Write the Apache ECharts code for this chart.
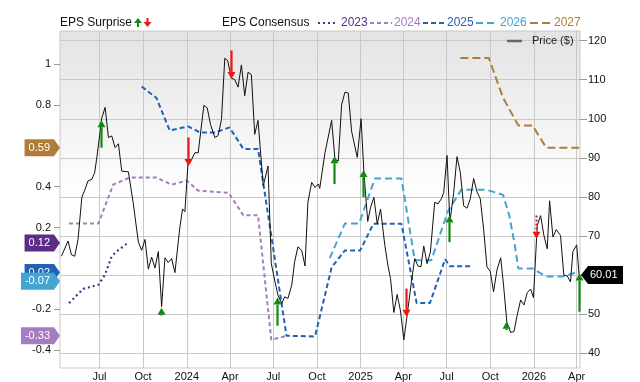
<!DOCTYPE html>
<html>
<head>
<meta charset="utf-8">
<script src="https://cdn.jsdelivr.net/npm/echarts@6/dist/echarts.min.js"></script>
<style>
html,body{margin:0;padding:0;background:#fff;}
#chart{width:640px;height:382px;}
</style>
</head>
<body>
<div id="chart"></div>
<script>
// ---------- DATA ----------
var priceDates = ['2023-04-12','2023-04-26','2023-05-03','2023-05-10','2023-05-17','2023-05-25','2023-06-01','2023-06-07','2023-06-15','2023-06-21','2023-06-26','2023-07-06','2023-07-13','2023-07-20','2023-07-27','2023-08-03','2023-08-10','2023-08-17','2023-08-31','2023-09-10','2023-09-21','2023-09-28','2023-10-05','2023-10-12','2023-10-19','2023-10-26','2023-11-02','2023-11-09','2023-11-16','2023-11-23','2023-11-30','2023-12-07','2023-12-17','2023-12-23','2023-12-28','2024-01-04','2024-01-07','2024-01-18','2024-01-25','2024-02-06','2024-02-13','2024-02-20','2024-02-29','2024-03-07','2024-03-14','2024-03-21','2024-03-27','2024-04-04','2024-04-11','2024-04-18','2024-04-25','2024-05-02','2024-05-09','2024-05-16','2024-05-23','2024-05-30','2024-06-10','2024-06-20','2024-06-27','2024-07-04','2024-07-11','2024-07-19','2024-07-25','2024-08-01','2024-08-09','2024-08-15','2024-08-22','2024-08-30','2024-09-06','2024-09-12','2024-09-20','2024-09-27','2024-10-04','2024-10-07','2024-10-18','2024-11-01','2024-11-08','2024-11-15','2024-11-22','2024-11-29','2024-12-06','2024-12-13','2024-12-25','2025-01-02','2025-01-08','2025-01-16','2025-01-22','2025-01-29','2025-02-05','2025-02-12','2025-02-21','2025-02-28','2025-03-05','2025-03-12','2025-03-19','2025-03-26','2025-04-02','2025-04-09','2025-04-18','2025-04-25','2025-05-02','2025-05-08','2025-05-14','2025-05-21','2025-05-28','2025-06-06','2025-06-13','2025-06-20','2025-06-25','2025-07-02','2025-07-08','2025-07-16','2025-07-23','2025-07-30','2025-08-06','2025-08-13','2025-08-20','2025-08-27','2025-09-03','2025-09-10','2025-09-17','2025-09-24','2025-10-01','2025-10-08','2025-10-15','2025-10-23','2025-10-29','2025-11-05','2025-11-13','2025-11-20','2025-11-26','2025-12-04','2025-12-11','2025-12-18','2025-12-25','2025-12-31','2026-01-08','2026-01-15','2026-01-22','2026-01-29','2026-02-03','2026-02-10','2026-02-17','2026-02-26','2026-03-05','2026-03-12','2026-03-19','2026-03-24','2026-04-01','2026-04-06'];
var priceValues = [64.8,68.7,65.2,64.8,69.1,79.9,82.0,84.1,84.5,86.2,90.4,100.2,102.9,95.2,95.6,92.6,93.6,86.6,86.4,78.6,68.4,66.3,69.1,61.5,64.6,61.8,66.0,51.9,64.4,63.2,64.2,60.6,71.8,76.9,76.2,89.5,88.6,91.3,91.3,103.4,102.8,98.5,95.2,95.7,99.8,115.5,114.9,110.4,110.0,108.1,113.8,105.9,111.9,111.3,96.0,99.6,82.8,87.9,62.9,58.7,54.8,52.7,54.4,54.0,57.4,63.3,67.2,66.3,62.3,78.6,83.7,82.4,83.3,82.2,91.3,99.6,89.6,89.2,103.6,106.8,106.6,96.8,90.1,100.0,86.2,73.7,77.3,79.9,73.1,76.9,67.6,62.1,59.1,50.4,55.0,50.8,43.4,49.7,58.2,64.2,62.3,62.1,67.4,62.9,65.9,78.6,78.2,79.5,81.1,90.6,73.5,81.1,90.3,86.2,77.7,77.1,79.5,84.7,81.3,79.5,71.8,62.1,60.9,55.7,61.2,64.4,57.4,47.9,45.3,45.5,49.3,53.6,52.3,55.5,56.4,54.2,72.7,75.2,70.1,66.7,79.0,69.7,71.6,70.1,59.9,59.8,58.2,66.0,67.7,60.01];

var eps2023Dates = ['2023-04-28','2023-05-28','2023-06-29','2023-07-13','2023-07-27','2023-08-10','2023-08-27'];
var eps2023Values = [-0.17,-0.10,-0.08,-0.03,0.06,0.09,0.12];

var eps2024Dates = ['2023-04-28','2023-06-29','2023-07-30','2023-09-03','2023-10-29','2023-11-30','2024-01-01','2024-01-25','2024-03-29','2024-04-29','2024-05-30','2024-06-27','2024-07-29'];
var eps2024Values = [0.22,0.22,0.41,0.445,0.445,0.41,0.43,0.38,0.37,0.26,0.26,-0.35,-0.33];

var eps2025Dates = ['2023-09-28','2023-10-29','2023-11-26','2024-01-04','2024-01-29','2024-02-29','2024-03-31','2024-04-29','2024-05-30','2024-07-29','2024-09-27','2024-11-01','2024-11-29','2024-12-31','2025-01-28','2025-03-28','2025-04-29','2025-05-27','2025-06-28','2025-07-08','2025-08-26'];
var eps2025Values = [0.89,0.835,0.675,0.695,0.665,0.665,0.69,0.585,0.585,-0.33,-0.333,0.005,0.088,0.088,0.218,0.218,-0.17,-0.17,0.045,0.01,0.01];

var eps2026Dates = ['2024-10-28','2024-11-29','2024-12-29','2025-01-31','2025-03-28','2025-04-25','2025-05-30','2025-07-04','2025-08-01','2025-09-23','2025-10-28','2025-11-10','2025-11-22','2025-11-29','2025-12-29','2026-01-27','2026-03-03','2026-04-06'];
var eps2026Values = [0.05,0.22,0.22,0.44,0.44,0.04,0.04,0.28,0.385,0.385,0.36,0.26,0.11,0.0,0.0,-0.04,-0.04,-0.015];

var eps2027Dates = ['2025-07-30','2025-09-28','2025-10-28','2025-11-29','2025-12-29','2026-01-27','2026-04-06'];
var eps2027Values = [1.03,1.03,0.835,0.70,0.70,0.59,0.59];

var surpriseDates = ['2023-07-04','2023-11-07','2024-01-03','2024-04-03','2024-07-08','2024-11-05','2025-01-05','2025-04-06','2025-07-06','2025-11-04','2026-01-05','2026-04-05'];
var surpriseFrom = [92.6,49.6,95.2,117.5,47.0,83.3,79.9,56.5,68.4,45.9,75.2,50.6];
var surpriseTo   = [99.6,51.6,87.9,110.2,54.2,90.4,86.9,49.3,75.2,48.0,69.3,60.4];
var surpriseDotted = [0,0,0,0,0,0,0,0,0,0,1,0];

var xTickDates = ['2023-07-01','2023-10-01','2024-01-01','2024-04-01','2024-07-01','2024-10-01','2025-01-01','2025-04-01','2025-07-01','2025-10-01','2026-01-01','2026-04-01'];
var xTickLabels = ['Jul','Oct','2024','Apr','Jul','Oct','2025','Apr','Jul','Oct','2026','Apr'];
var xMinDate = '2023-04-09', xMaxDate = '2026-04-08';
var priceTicks = [40,50,60,70,80,90,100,110,120];
var epsTicks = [-0.4,-0.2,0.2,0.4,0.8,1];
var epsTickLabels = ['-0.4','-0.2','0.2','0.4','0.8','1'];

// badge labels and the axis value each badge sits at (stacked badges are nudged apart)
var badgeLabels = ['0.59','0.12','0.02','-0.07','-0.33'];
var badgeAt = [0.59,0.124,-0.02,-0.063,-0.33];
var lastPrice = 60.01;
var lastPriceLabel = '60.01';

// ---------- STYLE ----------
var FONT = '"Liberation Sans", Arial, sans-serif';
var C2023 = '#5b2d86', C2024 = '#a47cc0', C2025 = '#2062b4', C2026 = '#44a4d2', C2027 = '#b07d36';
var badgeColors = [C2027, C2023, C2025, C2026, C2024];
var GREEN = '#128a12', RED = '#f01414';

function ts(s){ var p = s.split('-'); return Date.UTC(+p[0], +p[1]-1, +p[2]); }
function pairs(d, v){ return d.map(function(x,i){ return [ts(x), v[i]]; }); }
var xTickTs = xTickDates.map(ts);

var chart = echarts.init(document.getElementById('chart'), null, {renderer:'canvas'});

function epsSeries(name, d, v, color, dash, width){
  return {
    name: name, type:'line', yAxisIndex:0, data: pairs(d, v),
    symbol:'none', silent:true, z:3,
    lineStyle:{color:color, width:width||2, type:dash}
  };
}

var option = {
  animation:false,
  textStyle:{fontFamily:FONT},
  grid:{
    left:60, right:60, top:31, bottom:12, show:true,
    borderColor:'#c8c8c8', borderWidth:1,
    backgroundColor: new echarts.graphic.LinearGradient(0,0,0,1,[
      {offset:0,color:'#e3e3e3'},{offset:0.5,color:'#ffffff'},{offset:1,color:'#ffffff'}])
  },
  xAxis:{
    type:'value', min:ts(xMinDate), max:ts(xMaxDate),
    axisLine:{show:false},
    axisTick:{show:false, customValues:xTickTs},
    splitLine:{show:true, lineStyle:{color:'#c8c8c8', width:1}},
    axisLabel:{
      customValues:xTickTs, margin:3, color:'#111', fontSize:11, fontFamily:FONT,
      formatter:function(v){
        for (var k=0;k<xTickTs.length;k++){ if (Math.abs(xTickTs[k]-v) < 864e5) return xTickLabels[k]; }
        return '';
      }
    }
  },
  yAxis:[
    {
      type:'value', position:'left', min:-0.4876, max:1.162,
      axisLine:{show:false},
      axisTick:{show:true, length:6, customValues:epsTicks, lineStyle:{color:'#999'}},
      splitLine:{show:false},
      axisLabel:{
        customValues:epsTicks, margin:9, color:'#111', fontSize:11, fontFamily:FONT,
        formatter:function(v){
          for (var k=0;k<epsTicks.length;k++){ if (Math.abs(epsTicks[k]-v) < 1e-6) return epsTickLabels[k]; }
          return '';
        }
      }
    },
    {
      type:'value', position:'right', min:36.18, max:122.47,
      axisLine:{show:false},
      axisTick:{show:true, length:7, customValues:priceTicks, lineStyle:{color:'#999'}},
      splitLine:{show:true, lineStyle:{color:'#c8c8c8', width:1}},
      axisLabel:{customValues:priceTicks, margin:8, color:'#111', fontSize:11, fontFamily:FONT}
    }
  ],
  series:[
    epsSeries('2023', eps2023Dates, eps2023Values, C2023, [2,3], 2.2),
    epsSeries('2024', eps2024Dates, eps2024Values, C2024, [4,3], 2),
    epsSeries('2025', eps2025Dates, eps2025Values, C2025, [5,3], 2),
    epsSeries('2026', eps2026Dates, eps2026Values, C2026, [7,4], 2),
    epsSeries('2027', eps2027Dates, eps2027Values, C2027, [8,4], 2),
    {
      name:'Price', type:'line', yAxisIndex:1, data:pairs(priceDates, priceValues),
      symbol:'none', silent:true, z:5,
      lineStyle:{color:'#111', width:1}
    },
    {
      name:'Surprise', type:'custom', yAxisIndex:1, z:6, silent:true,
      data: surpriseDates.map(function(d,i){ return [ts(d), surpriseFrom[i], surpriseTo[i], surpriseDotted[i]]; }),
      encode:{x:0, y:[1,2]},
      renderItem:function(params, api){
        var a = api.coord([api.value(0), api.value(1)]);
        var b = api.coord([api.value(0), api.value(2)]);
        var up = api.value(2) > api.value(1);
        var color = up ? GREEN : RED;
        var x = Math.round(a[0]) + 0.5;
        var tip = b[1];
        var base = tip + (up ? 7 : -7);
        var dotted = api.value(3) === 1;
        return {
          type:'group',
          children:[
            {type:'line', shape:{x1:x, y1:a[1], x2:x, y2:base},
             style:{stroke:color, lineWidth:2.2, lineDash: dotted ? [2,2] : null}},
            {type:'polygon', shape:{points:[[x,tip],[x-4,base],[x+4,base]]},
             style:{fill:color}}
          ]
        };
      }
    }
  ]
};
chart.setOption(option);

// ---------- annotations (legend, badges) ----------
var measureCtx = document.createElement('canvas').getContext('2d');
function textW(t, size){ measureCtx.font = size + 'px ' + FONT; return measureCtx.measureText(t).width; }

var g = [];
g.push({type:'text', left:60, top:17, style:{text:'EPS Surprise', fill:'#111', font:'12px ' + FONT}});
function legendArrow(x, up, color){
  var top = 18, bot = 27;
  var tip = up ? top : bot, base = up ? top + 5 : bot - 5, tail = up ? bot : top;
  g.push({type:'line', shape:{x1:x, y1:tail, x2:x, y2:base}, style:{stroke:color, lineWidth:2}});
  g.push({type:'polygon', shape:{points:[[x,tip],[x-4,base],[x+4,base]]}, style:{fill:color}});
}
legendArrow(138, true, GREEN);
legendArrow(147.5, false, RED);
g.push({type:'text', left:222, top:17, style:{text:'EPS Consensus', fill:'#111', font:'12px ' + FONT}});
var legItems = [
  {label:'2023', color:C2023, dash:[2,3], x1:318, x2:338, tx:341},
  {label:'2024', color:C2024, dash:[4,3], x1:370, x2:392, tx:394},
  {label:'2025', color:C2025, dash:[5,3], x1:423, x2:445, tx:447},
  {label:'2026', color:C2026, dash:[7,4], x1:476, x2:497, tx:500},
  {label:'2027', color:C2027, dash:[8,4], x1:530, x2:551, tx:554}
];
legItems.forEach(function(it){
  g.push({type:'line', shape:{x1:it.x1, y1:23, x2:it.x2, y2:23}, style:{stroke:it.color, lineWidth:2.2, lineDash:it.dash}});
  g.push({type:'text', left:it.tx, top:17, style:{text:it.label, fill:it.color, font:'12px ' + FONT}});
});
g.push({type:'line', shape:{x1:507, y1:41, x2:522, y2:41}, style:{stroke:'#666', lineWidth:2.5}, z:20});
g.push({type:'text', left:532, top:35.5, style:{text:'Price ($)', fill:'#222', font:'11px ' + FONT}, z:20});

badgeAt.forEach(function(v, i){
  var y = chart.convertToPixel({yAxisIndex:0}, v);
  var w = textW(badgeLabels[i], 11);
  var L = 54 - w - 8, h = 8.5;
  g.push({type:'polygon', z:30+i,
    shape:{points:[[L,y-h],[54,y-h],[60,y],[54,y+h],[L,y+h]]},
    style:{fill:badgeColors[i]}});
  g.push({type:'text', z:30+i, x:L+4, y:y, style:{text:badgeLabels[i], fill:'#fff', font:'11px ' + FONT, verticalAlign:'middle', align:'left'}});
});
(function(){
  var y = chart.convertToPixel({yAxisIndex:1}, lastPrice);
  var h = 9;
  g.push({type:'polygon', z:40, shape:{points:[[581,y],[588,y-h],[623,y-h],[623,y+h],[588,y+h]]}, style:{fill:'#000'}});
  g.push({type:'text', z:41, x:590, y:y, style:{text:lastPriceLabel, fill:'#fff', font:'11px ' + FONT, verticalAlign:'middle', align:'left'}});
})();

chart.setOption({graphic:{elements:g}});
</script>
</body>
</html>
